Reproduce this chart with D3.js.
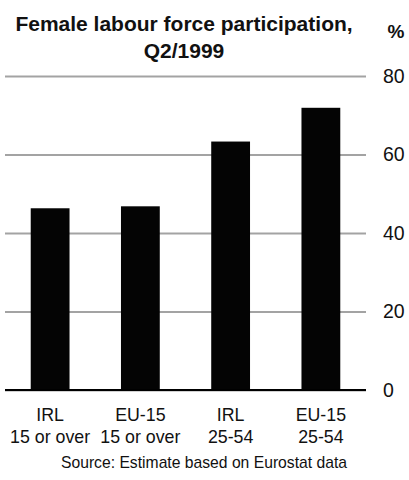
<!DOCTYPE html>
<html>
<head>
<meta charset="utf-8">
<script src="https://cdn.jsdelivr.net/npm/d3@7"></script>
<style>
  html, body { margin: 0; padding: 0; background: #fff; }
  svg { display: block; font-family: "Liberation Sans", Arial, sans-serif; }
</style>
</head>
<body>
<svg id="chart" width="409" height="480"></svg>
<script>
// Female labour force participation rates, Q2/1999 (%)
const regions = ["IRL", "EU-15", "IRL", "EU-15"];
const ageGroups = ["15 or over", "15 or over", "25-54", "25-54"];
const participation = [46.3, 46.8, 63.3, 71.9];
const yTicks = [0, 20, 40, 60, 80];
const titleLines = ["Female labour force participation,", "Q2/1999"];
const unitLabel = "%";
const sourceNote = "Source:  Estimate based on Eurostat data";

const svg = d3.select("#chart");
const plot = { left: 5, right: 366, top: 76, bottom: 390 };

const keys = d3.range(participation.length);
const x = d3.scaleBand()
  .domain(keys)
  .range([plot.left, plot.right])
  .paddingInner(0.57)
  .paddingOuter(0.285);

const y = d3.scaleLinear()
  .domain([0, 80])
  .range([plot.bottom, plot.top]);

// Gridlines and right-hand value axis
const yAxis = d3.axisRight(y)
  .tickValues(yTicks)
  .tickSize(plot.right - plot.left)
  .tickPadding(17)
  .tickFormat(d3.format("d"));

const gAxis = svg.append("g")
  .attr("transform", `translate(${plot.left},0)`)
  .call(yAxis)
  .attr("font-family", null);
gAxis.select(".domain").remove();
gAxis.selectAll(".tick line")
  .attr("stroke", "#a3a3a3")
  .attr("stroke-width", 2.2);
gAxis.selectAll(".tick text")
  .attr("fill", "#111")
  .attr("font-size", 19.5);

// Bars
svg.append("g")
  .selectAll("rect")
  .data(keys)
  .join("rect")
  .attr("x", i => x(i))
  .attr("width", x.bandwidth())
  .attr("y", i => y(participation[i]))
  .attr("height", i => y(0) - y(participation[i]))
  .attr("fill", "#040404");

// Zero baseline
svg.append("line")
  .attr("x1", plot.left)
  .attr("x2", plot.right)
  .attr("y1", y(0))
  .attr("y2", y(0))
  .attr("stroke", "#000")
  .attr("stroke-width", 2);

// Category labels
const catG = svg.append("g")
  .attr("font-size", 17.8)
  .attr("fill", "#111")
  .attr("text-anchor", "middle");
catG.selectAll("text.region")
  .data(keys)
  .join("text")
  .attr("class", "region")
  .attr("x", i => x(i) + x.bandwidth() / 2)
  .attr("y", 421)
  .text(i => regions[i]);
catG.selectAll("text.age")
  .data(keys)
  .join("text")
  .attr("class", "age")
  .attr("x", i => x(i) + x.bandwidth() / 2)
  .attr("y", 443)
  .text(i => ageGroups[i]);

// Title
svg.append("g")
  .attr("font-size", 21)
  .attr("font-weight", "bold")
  .attr("fill", "#111")
  .attr("text-anchor", "middle")
  .selectAll("text")
  .data(titleLines)
  .join("text")
  .attr("x", 184)
  .attr("y", (d, i) => 31 + i * 26.5)
  .text(d => d);

svg.append("text")
  .attr("x", 396)
  .attr("y", 38)
  .attr("text-anchor", "middle")
  .attr("font-size", 19)
  .attr("font-weight", "bold")
  .attr("fill", "#111")
  .text(unitLabel);

// Source note
svg.append("text")
  .attr("x", 204)
  .attr("y", 468)
  .attr("text-anchor", "middle")
  .attr("font-size", 15.7)
  .attr("fill", "#111")
  .text(sourceNote);
</script>
</body>
</html>
